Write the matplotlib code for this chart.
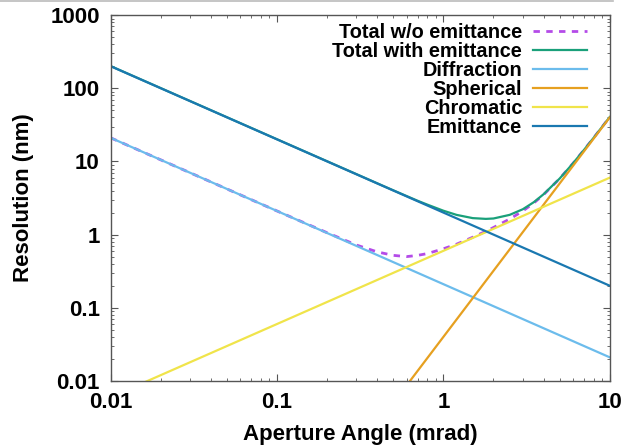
import matplotlib
matplotlib.use("Agg")
import matplotlib.pyplot as plt
from matplotlib.lines import Line2D
from matplotlib.ticker import LogLocator, NullFormatter, FixedLocator, FixedFormatter

plt.rcParams["font.family"] = ["Liberation Sans", "DejaVu Sans"]
plt.rcParams["font.weight"] = "bold"

# straight contributions (end points)
line_alpha = [0.01, 10]
diffraction = [21.0, 0.021]
spherical = [0.00000004, 40.0]
chromatic = [0.006, 6.0]
emittance = [200.0, 0.2]

# totals
tot_alpha = [0.01, 0.02, 0.05, 0.1, 0.2, 0.3, 0.4, 0.5, 0.6, 0.7, 0.8, 1.0,
             1.2, 1.5, 1.8, 2.0, 2.5, 3.0, 3.5, 4.0, 5.0, 6.0, 7.0, 8.0, 10.0]
total_wo = [21.0, 10.5, 4.2, 2.1, 1.06, 0.72, 0.58, 0.52, 0.50, 0.52, 0.55, 0.64,
            0.74, 0.92, 1.11, 1.25, 1.63, 2.1, 2.71, 3.51, 5.83, 9.36, 14.35, 21.0, 40.45]
total_with = [201.0, 100.5, 40.2, 20.1, 10.06, 6.71, 5.03, 4.03, 3.37, 2.90, 2.57, 2.12,
              1.86, 1.68, 1.64, 1.66, 1.86, 2.22, 2.78, 3.56, 5.84, 9.37, 14.36, 21.04, 40.45]

labels = ["Total w/o emittance", "Total with emittance", "Diffraction",
          "Spherical", "Chromatic", "Emittance"]
colors = ["#b44be8", "#1aa07a", "#6cbcec", "#e6a020", "#f0e44a", "#1a78b0"]

fig = plt.figure(figsize=(6.26, 4.46), dpi=100)
ax = fig.add_axes([0.177, 0.146, 0.797, 0.82])

lw = 1.6
ax.plot(tot_alpha, total_wo, color=colors[0], lw=2.0, ls=(0, (2.3, 2.3)), label=labels[0])
ax.plot(tot_alpha, total_with, color=colors[1], lw=lw, label=labels[1])
ax.plot(line_alpha, diffraction, color=colors[2], lw=lw, label=labels[2])
ax.plot(line_alpha, spherical, color=colors[3], lw=lw, label=labels[3])
ax.plot(line_alpha, chromatic, color=colors[4], lw=lw, label=labels[4])
ax.plot(line_alpha, emittance, color=colors[5], lw=lw, label=labels[5])

ax.set_xscale("log")
ax.set_yscale("log")
ax.set_xlim(0.01, 10)
ax.set_ylim(0.01, 1000)

xt = [0.01, 0.1, 1, 10]
yt = [0.01, 0.1, 1, 10, 100, 1000]
ax.xaxis.set_major_locator(FixedLocator(xt))
ax.xaxis.set_major_formatter(FixedFormatter(["0.01", "0.1", "1", "10"]))
ax.yaxis.set_major_locator(FixedLocator(yt))
ax.yaxis.set_major_formatter(FixedFormatter(["0.01", "0.1", "1", "10", "100", "1000"]))
for a in (ax.xaxis, ax.yaxis):
    a.set_minor_locator(LogLocator(base=10, subs=range(2, 10)))
    a.set_minor_formatter(NullFormatter())

ax.tick_params(which="both", direction="in", top=True, right=True,
               color="#555555", labelsize=16)
ax.tick_params(which="major", length=5, width=0.8, pad=8)
ax.tick_params(which="minor", length=2.5, width=0.6)
for s in ax.spines.values():
    s.set_color("#555555")
    s.set_linewidth(1.0)

ax.set_xlabel("Aperture Angle (mrad)", fontsize=16, fontweight="bold", labelpad=8)
ax.set_ylabel("Resolution (nm)", fontsize=16, fontweight="bold", labelpad=12)

leg = ax.legend(loc="upper right", bbox_to_anchor=(0.954, 0.979), frameon=False,
                markerfirst=False, fontsize=14.3, handlelength=2.7,
                handletextpad=0.55, labelspacing=0.0, borderpad=0, borderaxespad=0)

# faint grey rule along the top edge of the screenshot
fig.add_artist(Line2D([0, 0.98], [0.997, 0.997], transform=fig.transFigure,
                      color="#bbbbbb", lw=1.2))

fig.savefig("out.png", dpi=100, facecolor="white")
